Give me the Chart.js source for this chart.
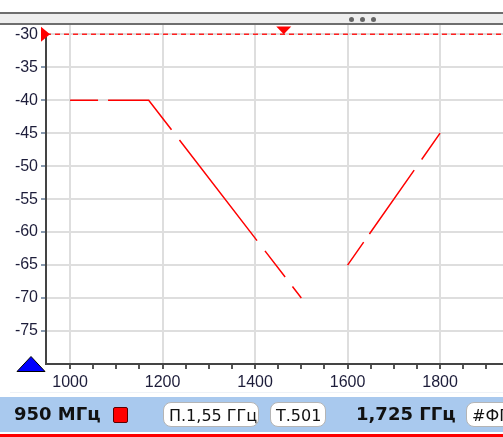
<!DOCTYPE html>
<html>
<head>
<meta charset="utf-8">
<script src="https://cdn.jsdelivr.net/npm/chart.js@4.4.1/dist/chart.umd.min.js"></script>
<style>
  html, body { margin: 0; padding: 0; background: #fff; }
  #wrap { position: relative; width: 503px; height: 437px; overflow: hidden; background: #fff; }
  #topbar { position: absolute; left: 0; top: 12px; width: 503px; height: 9px;
            border-top: 2px solid #6e6e6e; border-bottom: 2px solid #6e6e6e; background: #eeeeee; }
  .dot { position: absolute; top: 3px; width: 5px; height: 5px; border-radius: 50%; background: #666; }
  #chartBox { position: absolute; left: 0; top: 0; width: 503px; height: 395px; }
  #sep { position: absolute; left: 10px; top: 392px; width: 493px; height: 1px; background: #eef2f7; }
  #status { position: absolute; left: 0; top: 397px; width: 503px; height: 35px; background: #a9c9ee;
            font-family: "DejaVu Sans", sans-serif; color: #111; }
  .big { position: absolute; top: 6px; font-weight: bold; font-size: 18px; }
  .pill { position: absolute; top: 5px; height: 25px; line-height: 25px; padding: 0 5px; font-size: 16px;
          background: #fff; border: 1px solid #b5b5b5; border-radius: 8px; box-sizing: border-box; white-space: nowrap; }
  #sq { position: absolute; left: 113px; top: 10px; width: 15px; height: 16px; background: #f00;
        border: 1px solid #5a0000; border-radius: 2px; box-sizing: border-box; }
  #redline { position: absolute; left: 0; top: 434px; width: 503px; height: 3px; background: #f00; }
</style>
</head>
<body>
<div id="wrap">
  <div id="chartBox"><canvas id="spec" width="503" height="395"></canvas></div>
  <div id="topbar">
    <div class="dot" style="left:349px"></div>
    <div class="dot" style="left:360px"></div>
    <div class="dot" style="left:371px"></div>
  </div>
  <div id="sep"></div>
  <div id="status">
    <div class="big" style="left:14px">950 МГц</div>
    <div id="sq"></div>
    <div class="pill" style="left:163px;width:96px">П.1,55 ГГц</div>
    <div class="pill" style="left:270px;width:56px">Т.501</div>
    <div class="big" style="left:356px">1,725 ГГц</div>
    <div class="pill" style="left:466px;width:60px">#ФПЧ</div>
  </div>
  <div id="redline"></div>
</div>
<script>
// --- data ---
const maskFreq = [1000, 1170, 1500, 1550, 1600, 1800];   // MHz
const maskLevel = [-40, -40, -70, null, -65, -45];       // dB, null = gap
const refFreq = [948, 1936];
const refLevel = [-30, -30];
const markerFreq = 1462;
const xMin = 948, xMax = 1936;
const yMin = -80, yMax = -28.6;
const xTicks = [1000, 1050, 1100, 1150, 1200, 1250, 1300, 1350, 1400, 1450, 1500,
                1550, 1600, 1650, 1700, 1750, 1800, 1850, 1900];
const xLabels = [1000, 1200, 1400, 1600, 1800];
const yTicks = [-80, -75, -70, -65, -60, -55, -50, -45, -40, -35, -30];
const yLabels = [-75, -70, -65, -60, -55, -50, -45, -40, -35, -30];

const tickFont = { family: '"Liberation Sans", Arial, sans-serif', size: 16 };
const labelColor = '#1d1d3a';

// маркеры (треугольники) рисуем поверх
const markersPlugin = {
  id: 'markers',
  afterDraw(chart) {
    const { ctx, scales: { x, y }, chartArea } = chart;
    const yRef = y.getPixelForValue(refLevel[0]);
    ctx.save();
    // верхний красный треугольник
    const mx = x.getPixelForValue(markerFreq);
    ctx.fillStyle = '#ff0000';
    ctx.beginPath();
    ctx.moveTo(mx - 7.5, chartArea.top + 1.5);
    ctx.lineTo(mx + 7.5, chartArea.top + 1.5);
    ctx.lineTo(mx, yRef);
    ctx.closePath();
    ctx.fill();
    // левый красный треугольник (опорный уровень)
    ctx.fillStyle = '#fff';
    ctx.fillRect(chartArea.left - 2, chartArea.top, 4, yRef - chartArea.top);
    ctx.fillStyle = '#ff0000';
    ctx.beginPath();
    ctx.moveTo(chartArea.left - 5, yRef - 7.5);
    ctx.lineTo(chartArea.left + 4, yRef);
    ctx.lineTo(chartArea.left - 5, yRef + 7.5);
    ctx.closePath();
    ctx.fill();
    // синий треугольник внизу слева
    const by = y.getPixelForValue(yMin);
    ctx.fillStyle = '#0000ff';
    ctx.strokeStyle = '#000';
    ctx.lineWidth = 1;
    ctx.beginPath();
    ctx.moveTo(chartArea.left - 29, by + 7.5);
    ctx.lineTo(chartArea.left - 1, by + 7.5);
    ctx.lineTo(chartArea.left - 15, by - 7.5);
    ctx.closePath();
    ctx.fill();
    ctx.stroke();
    ctx.restore();
  }
};

new Chart(document.getElementById('spec'), {
  type: 'line',
  data: {
    datasets: [{
      label: 'mask',
      data: maskFreq.map((f, i) => ({ x: f, y: maskLevel[i] })),
      borderColor: '#ff0000',
      borderWidth: 1.5,
      borderDash: [28, 10, 78, 13, 127, 13, 33, 12, 40, 10],
      pointRadius: 0,
      spanGaps: false,
      tension: 0
    }, {
      label: 'ref',
      data: refFreq.map((f, i) => ({ x: f, y: refLevel[i] })),
      borderColor: '#ff2020',
      borderWidth: 1.5,
      borderDash: [5, 4],
      pointRadius: 0
    }]
  },
  options: {
    responsive: false,
    animation: false,
    layout: { padding: { top: 25, left: 0, right: 0, bottom: 0 } },
    plugins: { legend: { display: false }, tooltip: { enabled: false } },
    scales: {
      x: {
        type: 'linear',
        min: xMin, max: xMax,
        afterBuildTicks(scale) { scale.ticks = xTicks.map(v => ({ value: v })); },
        afterFit(scale) { scale.height = 31; },
        border: { color: '#444', width: 2 },
        grid: {
          color: c => (c.tick && xLabels.includes(c.tick.value)) ? '#dedede' : 'rgba(0,0,0,0)',
          lineWidth: 2,
          tickColor: '#555',
          tickLength: 5
        },
        ticks: {
          autoSkip: false,
          maxRotation: 0,
          padding: 4,
          color: labelColor,
          font: tickFont,
          callback: v => xLabels.includes(v) ? v : ''
        }
      },
      y: {
        min: yMin, max: yMax,
        afterBuildTicks(scale) { scale.ticks = yTicks.map(v => ({ value: v })); },
        afterFit(scale) { scale.width = 46; },
        border: { color: '#444', width: 2 },
        grid: {
          color: c => (c.tick && yLabels.includes(c.tick.value)) ? '#dedede' : 'rgba(0,0,0,0)',
          lineWidth: 2,
          tickColor: c => (c.tick && yLabels.includes(c.tick.value)) ? '#8a9bb0' : 'rgba(0,0,0,0)',
          tickLength: 5
        },
        ticks: {
          padding: 3,
          color: labelColor,
          font: tickFont,
          callback: v => yLabels.includes(v) ? v : ''
        }
      }
    }
  },
  plugins: [markersPlugin]
});
</script>
</body>
</html>
